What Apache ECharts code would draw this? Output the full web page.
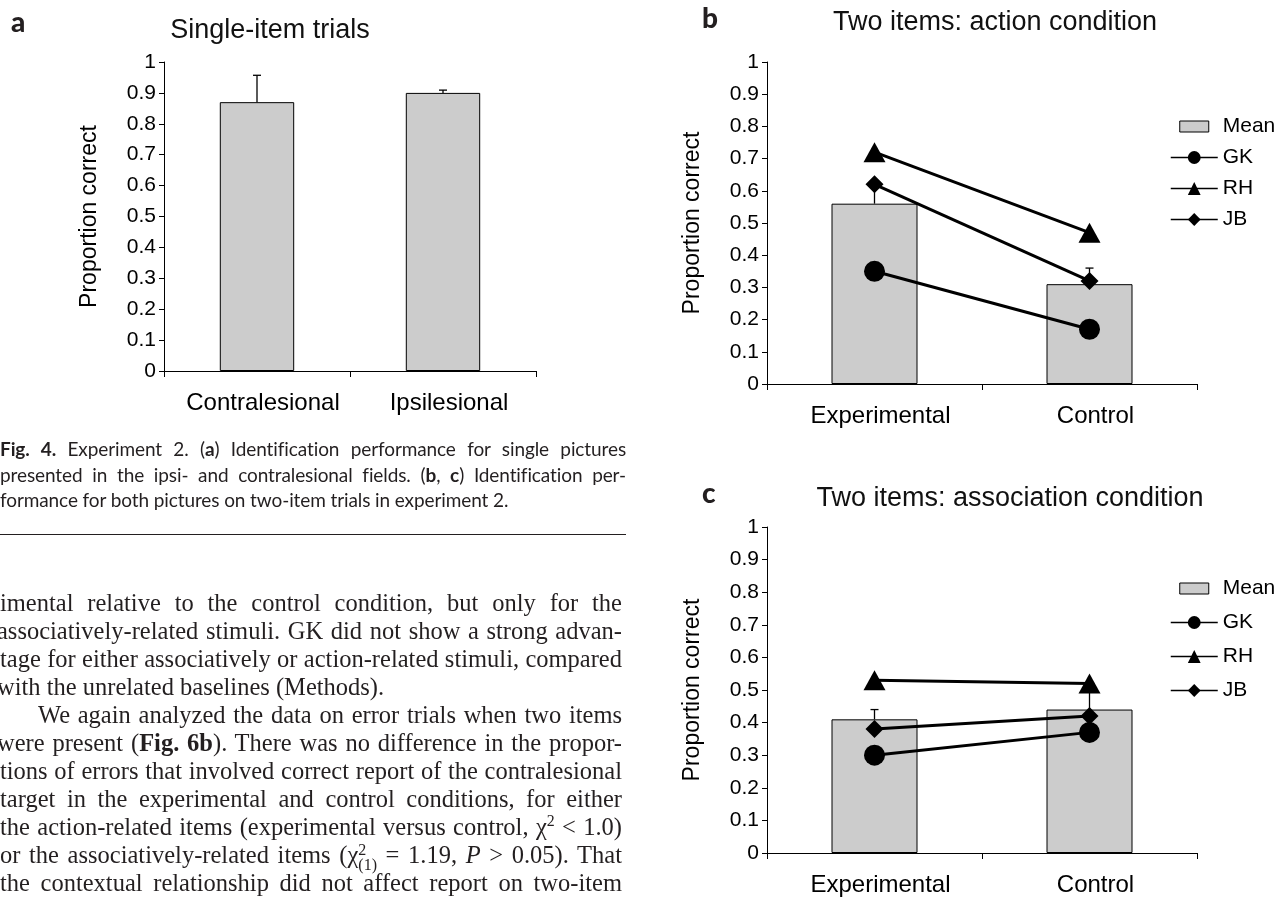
<!DOCTYPE html>
<html>
<head>
<meta charset="utf-8">
<script src="https://cdn.jsdelivr.net/npm/echarts@6/dist/echarts.min.js"></script>
<style>
html,body{margin:0;padding:0;background:#fff;}
#wrap{position:relative;width:1276px;height:898px;overflow:hidden;background:#fff;}
#chart{position:absolute;left:0;top:0;width:1276px;height:898px;}
#prose{position:absolute;left:0;top:0;width:640px;height:898px;overflow:hidden;}
.cap{position:absolute;left:0;width:626px;font-family:Lato,'Noto Sans',sans-serif;font-size:19px;letter-spacing:-0.1px;line-height:25px;color:#231f20;white-space:nowrap;text-align:justify;text-align-last:justify;}
.cap.last{text-align:left;text-align-last:left;}
.rule{position:absolute;left:0;top:534px;width:626px;height:0;border-top:1.5px solid #231f20;}
.bt{position:absolute;font-family:'Liberation Serif','Times New Roman',serif;font-size:24.5px;line-height:28px;color:#231f20;white-space:nowrap;text-align:justify;text-align-last:justify;}
.bt.last{text-align:left;text-align-last:left;}
sup{font-size:65%;line-height:0;}
.stk{display:inline-block;font-size:16px;line-height:15px;vertical-align:-7px;text-align:left;}
</style>
</head>
<body>
<div id="wrap">
  <div id="chart"></div>
  <div id="prose">
    <div class="cap" style="top:436px"><b>Fig. 4.</b> Experiment 2. (<b>a</b>) Identification performance for single pictures</div>
    <div class="cap" style="top:462px">presented in the ipsi- and contralesional fields. (<b>b</b>, <b>c</b>) Identification per-</div>
    <div class="cap last" style="top:487px">formance for both pictures on two-item trials in experiment 2.</div>
    <div class="rule"></div>

    <div class="bt" style="top:589px;left:0;width:622px">imental relative to the control condition, but only for the</div>
    <div class="bt" style="top:617px;left:-3px;width:625px">associatively-related stimuli. GK did not show a strong advan-</div>
    <div class="bt" style="top:645px;left:0;width:622px">tage for either associatively or action-related stimuli, compared</div>
    <div class="bt last" style="top:673px;left:-3px">with the unrelated baselines (Methods).</div>
    <div class="bt" style="top:701px;left:38px;width:584px">We again analyzed the data on error trials when two items</div>
    <div class="bt" style="top:729px;left:-3px;width:625px">were present (<b>Fig. 6b</b>). There was no difference in the propor-</div>
    <div class="bt" style="top:757px;left:0;width:622px">tions of errors that involved correct report of the contralesional</div>
    <div class="bt" style="top:785px;left:0;width:622px">target in the experimental and control conditions, for either</div>
    <div class="bt" style="top:813px;left:0;width:622px">the action-related items (experimental versus control, χ<sup>2</sup> &lt; 1.0)</div>
    <div class="bt" style="top:841px;left:0;width:622px">or the associatively-related items (χ<span class="stk">2<br>(1)</span> = 1.19, <i>P</i> &gt; 0.05). That</div>
    <div class="bt" style="top:869px;left:0;width:622px">the contextual relationship did not affect report on two-item</div>
  </div>
</div>
<script>
// ---------- data ----------
const catsA = ['Contralesional', 'Ipsilesional'];
const meanA = [0.87, 0.90];
const errA = [0.087, 0.009];

const catsTwo = ['Experimental', 'Control'];
const meanB = [0.56, 0.31];
const errB = [0.06, 0.05];
const gkB = [0.35, 0.17];
const rhB = [0.72, 0.47];
const jbB = [0.62, 0.32];

const meanC = [0.41, 0.44];
const errC = [0.03, 0.06];
const gkC = [0.30, 0.37];
const rhC = [0.53, 0.52];
const jbC = [0.38, 0.42];

const yMin = 0, yMax = 1, yStep = 0.1;
const titles = ['Single-item trials', 'Two items: action condition', 'Two items: association condition'];
const panelLetters = ['a', 'b', 'c'];
const yName = 'Proportion correct';
const legendNames = ['Mean', 'GK', 'RH', 'JB'];

// ---------- chart ----------
const FONT = "'Liberation Sans', Arial, Helvetica, sans-serif";
const LETTERFONT = "Lato, 'Noto Sans', sans-serif";
const chart = echarts.init(document.getElementById('chart'), null, {renderer: 'canvas'});

function xAx(i, cats) {
  return {
    type: 'category', gridIndex: i, data: cats, boundaryGap: true,
    axisLine: {show: true, onZero: false, lineStyle: {color: '#000', width: 1}},
    axisTick: {show: true, length: 6, inside: false, alignWithLabel: false, lineStyle: {color: '#000', width: 1}},
    axisLabel: {show: true, color: '#000', fontSize: 24, fontFamily: FONT, margin: 20, interval: 0, padding: [0, 0, 0, 12]},
    splitLine: {show: false}, splitArea: {show: false}
  };
}
function yAx(i) {
  return {
    type: 'value', gridIndex: i, min: yMin, max: yMax, interval: yStep,
    name: yName, nameLocation: 'middle', nameGap: 63, nameRotate: 90,
    nameTextStyle: {color: '#000', fontSize: 23, fontFamily: FONT},
    axisLine: {show: true, onZero: false, lineStyle: {color: '#000', width: 1}},
    axisTick: {show: true, length: 5, inside: false, lineStyle: {color: '#000', width: 1}},
    axisLabel: {show: true, color: '#000', fontSize: 21, fontFamily: FONT, margin: 8,
      formatter: v => String(+Number(v).toFixed(1))},
    splitLine: {show: false}, splitArea: {show: false}
  };
}
function barSeries(i, name, vals) {
  return {
    type: 'bar', name: name, xAxisIndex: i, yAxisIndex: i, data: vals, barWidth: '40%', z: 2,
    itemStyle: {color: '#cccccc', borderColor: '#000', borderWidth: 1},
    emphasis: {disabled: true}, silent: true
  };
}
function errSeries(i, means, errs) {
  return {
    type: 'custom', xAxisIndex: i, yAxisIndex: i, z: 3, silent: true,
    data: means.map((m, k) => [k, m, m + errs[k]]),
    encode: {x: 0, y: [1, 2]},
    renderItem: function (params, api) {
      const lo = api.coord([api.value(0), api.value(1)]);
      const hi = api.coord([api.value(0), api.value(2)]);
      const cap = 4;
      return {
        type: 'group', children: [
          {type: 'line', shape: {x1: lo[0], y1: lo[1], x2: hi[0], y2: hi[1]}, style: {stroke: '#000', lineWidth: 1.3}},
          {type: 'line', shape: {x1: hi[0] - cap, y1: hi[1], x2: hi[0] + cap, y2: hi[1]}, style: {stroke: '#000', lineWidth: 1.3}}
        ]
      };
    }
  };
}
function lineSeries(i, name, vals, symbol, size) {
  return {
    type: 'line', name: name, xAxisIndex: i, yAxisIndex: i, data: vals, z: 4,
    symbol: symbol, symbolSize: size, showSymbol: true,
    lineStyle: {color: '#000', width: 3},
    itemStyle: {color: '#000', borderWidth: 0},
    emphasis: {disabled: true}, silent: true, animation: false
  };
}
const meanIcon = 'path://M0,0M47,16M9,2.5L38,2.5L38,13.5L9,13.5Z';
function legendCfg(top, gap) {
  return {
    orient: 'vertical', left: 1170, top: top, itemWidth: 47, itemHeight: 16, itemGap: gap,
    selectedMode: false, padding: 0,
    textStyle: {fontSize: 21, color: '#000', fontFamily: FONT},
    lineStyle: {width: 1.5, color: '#000'},
    data: [
      {name: legendNames[0], icon: meanIcon, itemStyle: {color: '#cccccc', borderColor: '#000', borderWidth: 1}},
      {name: legendNames[1], itemStyle: {color: '#000', borderWidth: 0}},
      {name: legendNames[2], itemStyle: {color: '#000', borderWidth: 0}},
      {name: legendNames[3], itemStyle: {color: '#000', borderWidth: 0}}
    ]
  };
}
function txt(x, y, s, size, font, weight) {
  return {type: 'text', x: x, y: y, silent: true,
    style: {text: s, fontSize: size, fontFamily: font, fontWeight: weight || 'normal', fill: '#111', align: 'center', verticalAlign: 'middle'}};
}

const option = {
  animation: false,
  backgroundColor: 'transparent',
  textStyle: {fontFamily: FONT},
  tooltip: {show: false},
  grid: [
    {left: 164, top: 62, width: 372, height: 309, containLabel: false, outerBoundsMode: 'none'},
    {left: 767, top: 62, width: 430, height: 322, containLabel: false, outerBoundsMode: 'none'},
    {left: 767, top: 527, width: 430, height: 326, containLabel: false, outerBoundsMode: 'none'}
  ],
  xAxis: [xAx(0, catsA), xAx(1, catsTwo), xAx(2, catsTwo)],
  yAxis: [yAx(0), yAx(1), yAx(2)],
  legend: [legendCfg(116, 10), legendCfg(578, 13)],
  graphic: [
    {type: 'text', left: 11, top: 9, silent: true, style: {text: panelLetters[0], fontSize: 28, fontFamily: LETTERFONT, fontWeight: 900, fill: '#231f20'}},
    {type: 'text', left: 702, top: 5, silent: true, style: {text: panelLetters[1], fontSize: 28, fontFamily: LETTERFONT, fontWeight: 900, fill: '#231f20'}},
    {type: 'text', left: 702, top: 480, silent: true, style: {text: panelLetters[2], fontSize: 28, fontFamily: LETTERFONT, fontWeight: 900, fill: '#231f20'}},
    txt(270, 31, titles[0], 27, FONT),
    txt(995, 23, titles[1], 27, FONT),
    txt(1010, 499, titles[2], 27, FONT)
  ],
  series: [
    barSeries(0, 'Single', meanA),
    errSeries(0, meanA, errA),

    barSeries(1, legendNames[0], meanB),
    errSeries(1, meanB, errB),
    lineSeries(1, legendNames[1], gkB, 'circle', 21),
    lineSeries(1, legendNames[2], rhB, 'triangle', [22, 20]),
    lineSeries(1, legendNames[3], jbB, 'diamond', 18),

    barSeries(2, legendNames[0], meanC),
    errSeries(2, meanC, errC),
    lineSeries(2, legendNames[1], gkC, 'circle', 21),
    lineSeries(2, legendNames[2], rhC, 'triangle', [22, 20]),
    lineSeries(2, legendNames[3], jbC, 'diamond', 18)
  ]
};
chart.setOption(option);
</script>
</body>
</html>
